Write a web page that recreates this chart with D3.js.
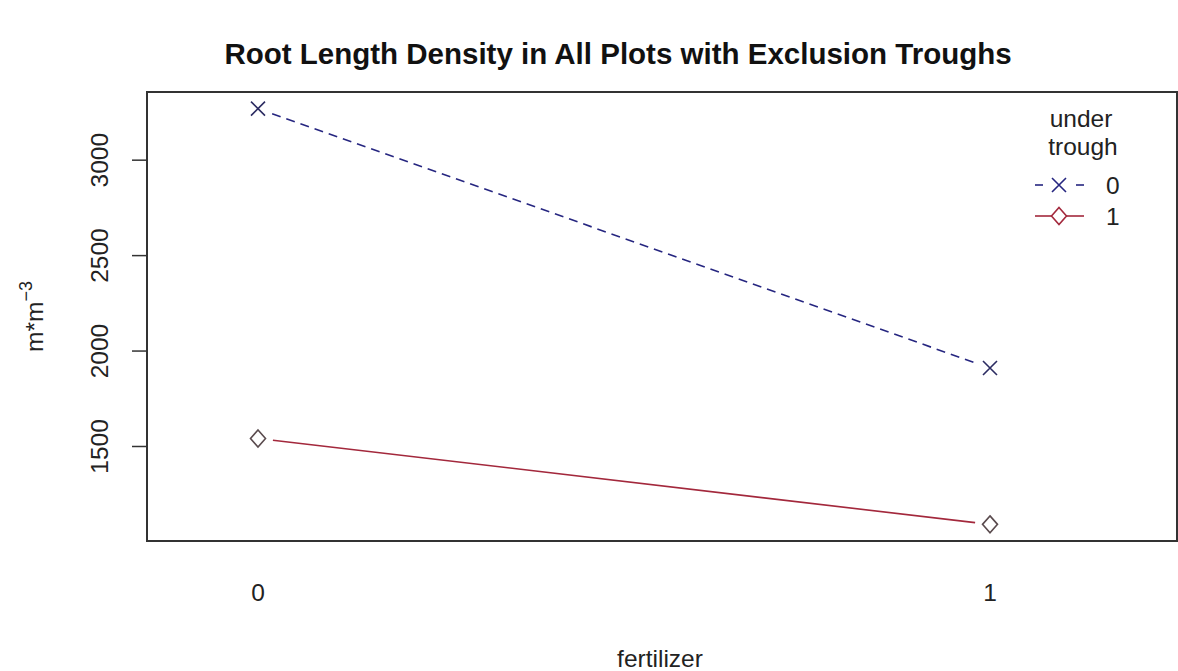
<!DOCTYPE html>
<html>
<head>
<meta charset="utf-8">
<script src="https://cdn.jsdelivr.net/npm/d3@7"></script>
<style>
  html, body { margin: 0; padding: 0; background: #fff; }
  text { font-family: "Liberation Sans", Arial, sans-serif; fill: #222; }
</style>
</head>
<body>
<div id="chart"></div>
<script>
// values
const fertilizerLevels = ["0", "1"]
const troughLevels = ["0", "1"]
const rldTrough0 = [3270, 1911]
const rldTrough1 = [1542, 1092]
const yTicks = [1500, 2000, 2500, 3000]

const width = 1178
const height = 671
const frame = { left: 147, right: 1177, top: 92, bottom: 541 }
const baseFont = 24.5

const series = [
  { key: troughLevels[0], values: rldTrough0, color: "#262680", markColor: "#2c2c62", dash: "9,6", shape: "cross" },
  { key: troughLevels[1], values: rldTrough1, color: "#a3283c", markColor: "#5a4b4e", dash: null, shape: "diamond" },
]

const svg = d3.select("#chart")
  .append("svg")
  .attr("width", width)
  .attr("height", height)

// scales
const x = d3.scaleLinear().domain([0, fertilizerLevels.length - 1]).range([258, 990])
const allVals = [...rldTrough0, ...rldTrough1]
const lo = d3.min(allVals), hi = d3.max(allVals)
const pad = (hi - lo) * 0.04
const y = d3.scaleLinear().domain([lo - pad, hi + pad]).range([frame.bottom, frame.top])

// title
svg.append("text")
  .attr("x", 618)
  .attr("y", 64)
  .attr("text-anchor", "middle")
  .style("font-weight", "bold")
  .style("font-size", "29.5px")
  .style("fill", "#111")
  .text("Root Length Density in All Plots with Exclusion Troughs")

// plot frame
svg.append("rect")
  .attr("x", frame.left)
  .attr("y", frame.top)
  .attr("width", frame.right - frame.left)
  .attr("height", frame.bottom - frame.top)
  .attr("fill", "none")
  .attr("stroke", "#333")
  .attr("stroke-width", 2)

// y axis ticks, labels rotated like R
const yAxis = svg.append("g")
yAxis.selectAll("line")
  .data(yTicks)
  .join("line")
  .attr("x1", frame.left - 15)
  .attr("x2", frame.left)
  .attr("y1", (d) => y(d))
  .attr("y2", (d) => y(d))
  .attr("stroke", "#333")
  .attr("stroke-width", 1.5)
yAxis.selectAll("text")
  .data(yTicks)
  .join("text")
  .attr("transform", (d) => `translate(108,${y(d)}) rotate(-90)`)
  .attr("text-anchor", "middle")
  .style("font-size", baseFont + "px")
  .text((d) => d)

// x labels (no tick marks in the reference)
svg.append("g").selectAll("text")
  .data(fertilizerLevels)
  .join("text")
  .attr("x", (d, i) => x(i))
  .attr("y", 601)
  .attr("text-anchor", "middle")
  .style("font-size", baseFont + "px")
  .text((d) => d)

svg.append("text")
  .attr("x", 660)
  .attr("y", 667)
  .attr("text-anchor", "middle")
  .style("font-size", baseFont + "px")
  .text("fertilizer")

// y axis title m*m^-3
const ylab = svg.append("text")
  .attr("transform", `translate(43,${(frame.top + frame.bottom) / 2}) rotate(-90)`)
  .attr("text-anchor", "middle")
  .style("font-size", baseFont + "px")
ylab.append("tspan").text("m*m")
ylab.append("tspan")
  .attr("dy", -11)
  .style("font-size", "18px")
  .text("\u22123")

// marker shapes
const drawMark = (g, shape, cx, cy, color) => {
  if (shape === "cross") {
    const r = 7
    g.append("path")
      .attr("d", `M${cx - r},${cy - r}L${cx + r},${cy + r}M${cx - r},${cy + r}L${cx + r},${cy - r}`)
      .attr("stroke", color)
      .attr("stroke-width", 1.6)
      .attr("fill", "none")
  } else {
    const rx = 7.5, ry = 8.5
    g.append("path")
      .attr("d", `M${cx},${cy - ry}L${cx + rx},${cy}L${cx},${cy + ry}L${cx - rx},${cy}Z`)
      .attr("stroke", color)
      .attr("stroke-width", 1.6)
      .attr("fill", "none")
  }
}

// lines with gaps round the points (type = "b")
const gap = 15
series.forEach((s) => {
  const g = svg.append("g")
  const pts = s.values.map((v, i) => [x(i), y(v)])
  for (let i = 0; i < pts.length - 1; i++) {
    const [x1, y1] = pts[i]
    const [x2, y2] = pts[i + 1]
    const len = Math.hypot(x2 - x1, y2 - y1)
    const ux = (x2 - x1) / len, uy = (y2 - y1) / len
    g.append("line")
      .attr("x1", x1 + ux * gap)
      .attr("y1", y1 + uy * gap)
      .attr("x2", x2 - ux * gap)
      .attr("y2", y2 - uy * gap)
      .attr("stroke", s.color)
      .attr("stroke-width", 1.6)
      .attr("stroke-dasharray", s.dash)
  }
  pts.forEach(([px, py]) => drawMark(g, s.shape, px, py, s.markColor))
})

// legend
const legend = svg.append("g")
legend.append("text")
  .attr("x", 1081).attr("y", 127)
  .attr("text-anchor", "middle")
  .style("font-size", baseFont + "px")
  .text("under")
legend.append("text")
  .attr("x", 1083).attr("y", 155)
  .attr("text-anchor", "middle")
  .style("font-size", baseFont + "px")
  .text("trough")

series.forEach((s, i) => {
  const ly = 185 + i * 31
  const row = legend.append("g")
  const segs = s.dash ? [[1035, 1043], [1076, 1084]] : [[1035, 1052], [1066, 1084]]
  segs.forEach(([a, b]) => {
    row.append("line")
      .attr("x1", a).attr("x2", b)
      .attr("y1", ly).attr("y2", ly)
      .attr("stroke", s.color)
      .attr("stroke-width", 1.6)
  })
  drawMark(row, s.shape, 1059, ly, s.color)
  row.append("text")
    .attr("x", 1106)
    .attr("y", ly + 9)
    .style("font-size", baseFont + "px")
    .text(s.key)
})
</script>
</body>
</html>
